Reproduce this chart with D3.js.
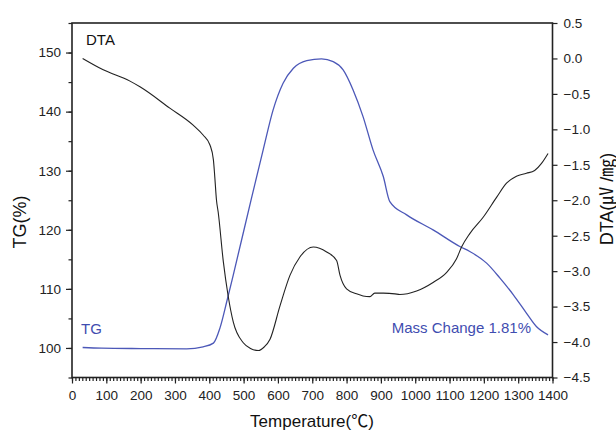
<!DOCTYPE html>
<html>
<head>
<meta charset="utf-8">
<script src="https://cdn.jsdelivr.net/npm/d3@7"></script>
<style>
  body { margin: 0; background: #fff; }
  svg { display: block; font-family: "Liberation Sans", Arial, "Noto Sans CJK SC", sans-serif; }
  .tick text { fill: #222; font-size: 13.5px; }
  .tick line { stroke: #222; stroke-width: 1.2; }
</style>
</head>
<body>
<svg id="svg" width="616" height="430"></svg>
<script>
// DTA curve (black), right axis
var dtaTemp = [31, 91, 169, 198, 285, 353, 382, 402, 412, 416, 421, 426, 441, 455, 470, 499, 520, 543, 560, 577, 606, 635, 664, 703, 742, 771, 781, 800, 829, 848, 868, 882, 907, 941, 955, 1004, 1052, 1091, 1120, 1135, 1159, 1198, 1237, 1266, 1295, 1324, 1348, 1368, 1387];
var dtaValue = [0.0, -0.16, -0.32, -0.40, -0.70, -0.94, -1.08, -1.22, -1.43, -1.67, -2.0, -2.17, -2.87, -3.35, -3.72, -4.01, -4.09, -4.12, -4.07, -3.96, -3.49, -3.06, -2.80, -2.66, -2.73, -2.85, -3.06, -3.25, -3.32, -3.35, -3.36, -3.31, -3.31, -3.32, -3.33, -3.28, -3.16, -3.02, -2.83, -2.66, -2.47, -2.24, -1.96, -1.76, -1.66, -1.62, -1.58, -1.48, -1.34];

// TG curve (blue), left axis
var tgTemp = [31, 86, 200, 334, 382, 412, 431, 451, 470, 523, 557, 586, 615, 645, 684, 727, 761, 790, 819, 848, 877, 907, 926, 975, 1052, 1130, 1159, 1208, 1247, 1286, 1324, 1353, 1387];
var tgValue = [100.08, 99.97, 99.9, 99.86, 100.19, 100.82, 103.36, 107.86, 112.38, 125.36, 133.53, 140.3, 144.81, 147.35, 148.64, 148.93, 148.47, 147.07, 143.68, 139.16, 133.53, 129.01, 124.78, 122.53, 119.99, 117.17, 116.32, 114.36, 111.82, 108.99, 105.9, 103.63, 102.22];

var xTicks = d3.range(0, 1401, 100);
var leftTicks = [100, 110, 120, 130, 140, 150];
var rightTicks = [0.5, 0.0, -0.5, -1.0, -1.5, -2.0, -2.5, -3.0, -3.5, -4.0, -4.5];

var svg = d3.select("#svg");
var plotLeft = 72, plotRight = 552.5, plotTop = 23, plotBottom = 377.5;

var xScale = d3.scaleLinear().domain([0, 1400]).range([plotLeft, plotRight]);
var yLeft = d3.scaleLinear().domain([95, 155]).range([plotBottom, plotTop]);
var yRight = d3.scaleLinear().domain([-4.5, 0.5]).range([plotBottom, plotTop]);

// minor ticks
svg.append("g")
  .attr("transform", `translate(0, ${plotBottom})`)
  .call(d3.axisBottom(xScale).tickValues(d3.range(0, 1401, 10)).tickSize(3.5).tickFormat(""))
  .call(g => g.select(".domain").remove());
svg.append("g")
  .attr("transform", `translate(${plotLeft}, 0)`)
  .call(d3.axisLeft(yLeft).tickValues(d3.range(95, 156, 5)).tickSize(3.5).tickFormat(""))
  .call(g => g.select(".domain").remove());

// major ticks
svg.append("g")
  .attr("transform", `translate(0, ${plotBottom})`)
  .call(d3.axisBottom(xScale).tickValues(xTicks).tickSize(6).tickPadding(7).tickFormat(d3.format("d")))
  .call(g => g.select(".domain").remove());
svg.append("g")
  .attr("transform", `translate(${plotLeft}, 0)`)
  .call(d3.axisLeft(yLeft).tickValues(leftTicks).tickSize(6).tickPadding(5).tickFormat(d3.format("d")))
  .call(g => g.select(".domain").remove());
svg.append("g")
  .attr("transform", `translate(${plotRight}, 0)`)
  .call(d3.axisRight(yRight).tickValues(rightTicks).tickSize(5).tickPadding(6).tickFormat(d3.format(".1f")))
  .call(g => g.select(".domain").remove());

// frame
svg.append("rect")
  .attr("x", plotLeft)
  .attr("y", plotTop)
  .attr("width", plotRight - plotLeft)
  .attr("height", plotBottom - plotTop)
  .attr("fill", "none")
  .attr("stroke", "#222")
  .attr("stroke-width", 1.6);

var dtaLine = d3.line()
  .x((d, i) => xScale(dtaTemp[i]))
  .y(d => yRight(d))
  .curve(d3.curveMonotoneX);
var tgLine = d3.line()
  .x((d, i) => xScale(tgTemp[i]))
  .y(d => yLeft(d))
  .curve(d3.curveMonotoneX);

svg.append("path")
  .attr("d", tgLine(tgValue))
  .attr("fill", "none")
  .attr("stroke", "#4c58b8")
  .attr("stroke-width", 1.3);
svg.append("path")
  .attr("d", dtaLine(dtaValue))
  .attr("fill", "none")
  .attr("stroke", "#222")
  .attr("stroke-width", 1.1);

// in-plot labels
svg.append("text").attr("x", 86).attr("y", 45).style("font-size", "15px").attr("fill", "#111").text("DTA");
svg.append("text").attr("x", 81).attr("y", 334).style("font-size", "15px").attr("fill", "#3f4db0").text("TG");
svg.append("text").attr("x", 531).attr("y", 333).style("font-size", "15px").attr("fill", "#3f4db0")
  .style("text-anchor", "end").text("Mass Change 1.81%");

// axis titles
svg.append("text")
  .attr("transform", "translate(20, 222) rotate(-90)")
  .attr("dy", "0.35em")
  .style("text-anchor", "middle")
  .style("font-size", "18px")
  .attr("fill", "#111")
  .text("TG(%)");
svg.append("text")
  .attr("transform", "translate(607, 199) rotate(-90)")
  .attr("dy", "0.35em")
  .style("text-anchor", "middle")
  .style("font-size", "18px")
  .attr("fill", "#111")
  .text("DTA(㎶ /㎎)");
svg.append("text")
  .attr("x", 312)
  .attr("y", 427)
  .style("text-anchor", "middle")
  .style("font-size", "17px")
  .attr("fill", "#111")
  .text("Temperature(℃)");
</script>
</body>
</html>
